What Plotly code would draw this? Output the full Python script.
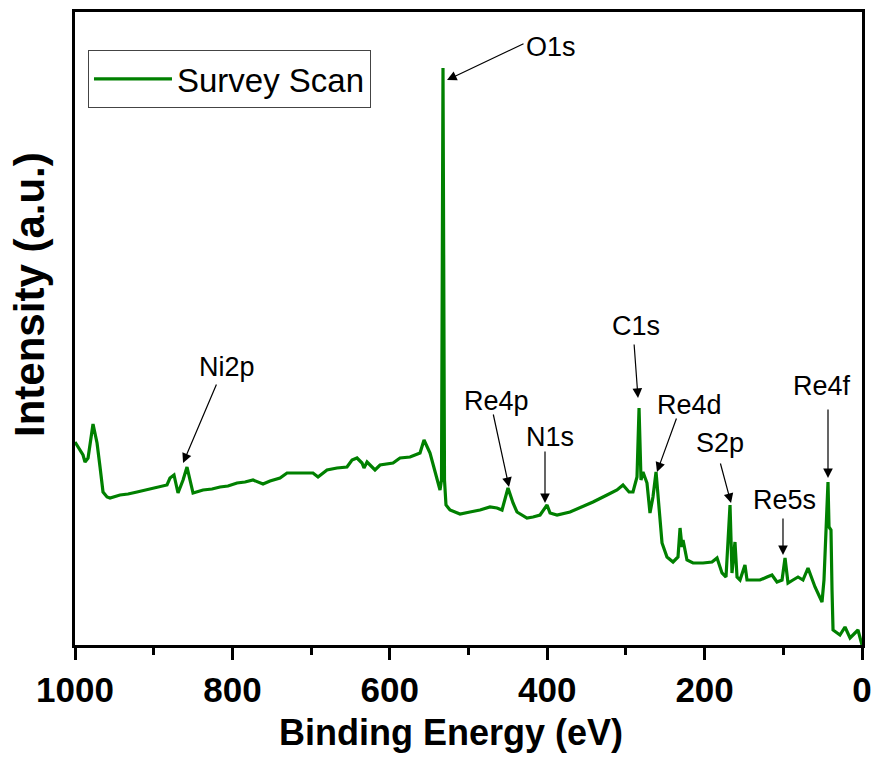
import plotly.graph_objects as go

# Binding energy (eV) and intensity (a.u.)
binding_energy = [
    1000.0, 993.6, 989.8, 987.3, 983.4, 977.1, 972.0, 968.2, 964.4, 959.3, 955.5,
    942.8, 932.6, 921.2, 911.0, 900.9, 892.0, 883.1, 879.3, 874.2, 869.1, 862.7,
    857.7, 853.8, 850.0, 837.3, 825.9, 815.7, 805.6, 794.1, 784.0, 773.8, 761.1,
    752.2, 739.5, 730.6, 714.1, 697.6, 691.2, 679.8, 667.1, 654.4, 648.0, 641.7,
    635.3, 632.8, 628.9, 618.8, 612.4, 595.9, 587.0, 574.3, 561.6, 556.5, 548.9,
    540.0, 536.2, 534.3, 532.4, 530.5, 528.6, 523.5, 510.8, 498.1, 485.4, 472.7,
    463.8, 457.4, 449.8, 443.4, 438.4, 425.7, 418.0, 409.1, 400.2, 396.4, 387.5,
    371.0, 358.3, 341.8, 324.0, 311.3, 303.7, 296.0, 291.0, 285.9, 283.3, 280.8,
    278.3, 273.2, 269.4, 265.6, 261.7, 259.2, 254.1, 247.8, 240.1, 233.8, 231.2,
    228.7, 227.4, 222.4, 214.7, 202.0, 190.6, 184.2, 177.9, 172.8, 167.7, 165.2,
    161.4, 158.8, 155.0, 148.7, 146.1, 137.2, 129.6, 120.7, 114.4, 108.0, 101.6,
    97.8, 94.0, 87.7, 81.3, 75.0, 68.6, 59.7, 50.8, 48.3, 45.7, 43.2, 41.9, 39.4,
    38.1, 36.8, 28.0, 21.6, 15.2, 8.9, 5.1, 0.0,
]
intensity = [
    203, 195, 190, 183, 187, 221, 202, 178, 153, 148, 147,
    150, 151, 153, 155, 157, 159, 160, 167, 170, 152, 165,
    178, 165, 152, 155, 156, 158, 159, 162, 163, 165, 161,
    164, 167, 172, 172, 172, 168, 175, 177, 178, 185, 187,
    182, 177, 183, 175, 180, 182, 187, 188, 192, 205, 192,
    168, 155, 165, 577, 165, 140, 135, 131, 133, 135, 138,
    137, 135, 157, 142, 133, 127, 128, 130, 140, 132, 130,
    133, 137, 143, 150, 155, 160, 153, 153, 168, 237, 165,
    173, 162, 132, 148, 173, 148, 102, 88, 83, 88, 117,
    98, 105, 85, 82, 82, 83, 87, 72, 68, 140, 72,
    103, 68, 65, 80, 65, 65, 65, 68, 70, 63, 65,
    87, 62, 65, 68, 65, 77, 58, 43, 65, 115, 163, 118, 115,
    55, 15, 10, 18, 7, 12, 15, 0,
]

# Peak labels: text, text position, arrow tail, arrow head (BE eV, intensity a.u.)
peak_labels = ["O1s", "Ni2p", "Re4p", "N1s", "C1s", "Re4d", "S2p", "Re5s", "Re4f"]
label_be = [395.2, 806.8, 463.8, 396.4, 287.2, 219.8, 180.4, 99.1, 50.8]
label_int = [598, 278, 244, 208, 319, 240, 202, 145, 259]
tail_be = [428.2, 819.5, 468.9, 402.8, 289.7, 235.1, 180.4, 100.4, 43.2]
tail_int = [602, 262, 232, 195, 302, 228, 183, 128, 237]
head_be = [527.3, 862.7, 448.5, 402.8, 284.6, 260.5, 166.4, 100.4, 43.2]
head_int = [565, 182, 158, 142, 247, 173, 142, 90, 167]

x_ticks = [1000, 800, 600, 400, 200, 0]
x_title = "Binding Energy (eV)"
y_title = "Intensity (a.u.)"

FONT = "Arial, Liberation Sans, sans-serif"
GREEN = "#008000"

fig = go.Figure()
fig.add_trace(go.Scatter(
    x=binding_energy, y=intensity, mode="lines", name="Survey Scan",
    line=dict(color=GREEN, width=3.2),
))

for t, lx, ly in zip(peak_labels, label_be, label_int):
    fig.add_annotation(x=lx, y=ly, xref="x", yref="y", text=t, showarrow=False,
                       font=dict(family=FONT, size=27, color="black"))
for tx, ty, hx, hy in zip(tail_be, tail_int, head_be, head_int):
    fig.add_annotation(x=hx, y=hy, ax=tx, ay=ty, xref="x", yref="y",
                       axref="x", ayref="y", text="", showarrow=True,
                       arrowhead=2, arrowsize=1.6, arrowwidth=1.2,
                       arrowcolor="black", standoff=0, startstandoff=0)

# axis titles (placed as annotations to match the reference's off-centre positions)
fig.add_annotation(x=0.478, y=-0.139, xref="paper", yref="paper",
                   xanchor="center", yanchor="middle", showarrow=False,
                   text="<b>" + x_title + "</b>",
                   font=dict(family=FONT, size=36, color="black"))
fig.add_annotation(x=-0.0585, y=0.5545, xref="paper", yref="paper",
                   xanchor="center", yanchor="middle", showarrow=False,
                   textangle=-90, text="<b>" + y_title + "</b>",
                   font=dict(family=FONT, size=42, color="black"))

fig.update_layout(
    width=878, height=757,
    margin=dict(l=75, r=16, t=12, b=112),
    paper_bgcolor="white", plot_bgcolor="white",
    font=dict(family=FONT, color="black"),
    showlegend=True,
    legend=dict(
        x=0.0165, y=0.94, xanchor="left", yanchor="top",
        bordercolor="#444444", borderwidth=1, bgcolor="white",
        font=dict(family=FONT, size=33, color="black"),
        itemwidth=78,
    ),
    xaxis=dict(
        range=[1000, 0], tickvals=x_ticks,
        ticktext=[str(v) for v in x_ticks],
        automargin=False,
        showline=True, linecolor="black", linewidth=3, mirror=True,
        ticks="outside", ticklen=12, tickwidth=3, tickcolor="black",
        minor=dict(dtick=100, tick0=0, ticks="outside", ticklen=7, tickwidth=3, tickcolor="black"),
        showgrid=False, zeroline=False,
        tickfont=dict(family=FONT, size=35, color="black", weight="bold"),
    ),
    yaxis=dict(
        range=[0, 633], automargin=False,
        showline=True, linecolor="black", linewidth=3, mirror=True,
        showticklabels=False, ticks="", showgrid=False, zeroline=False,
    ),
)

fig.write_html("out.html")
